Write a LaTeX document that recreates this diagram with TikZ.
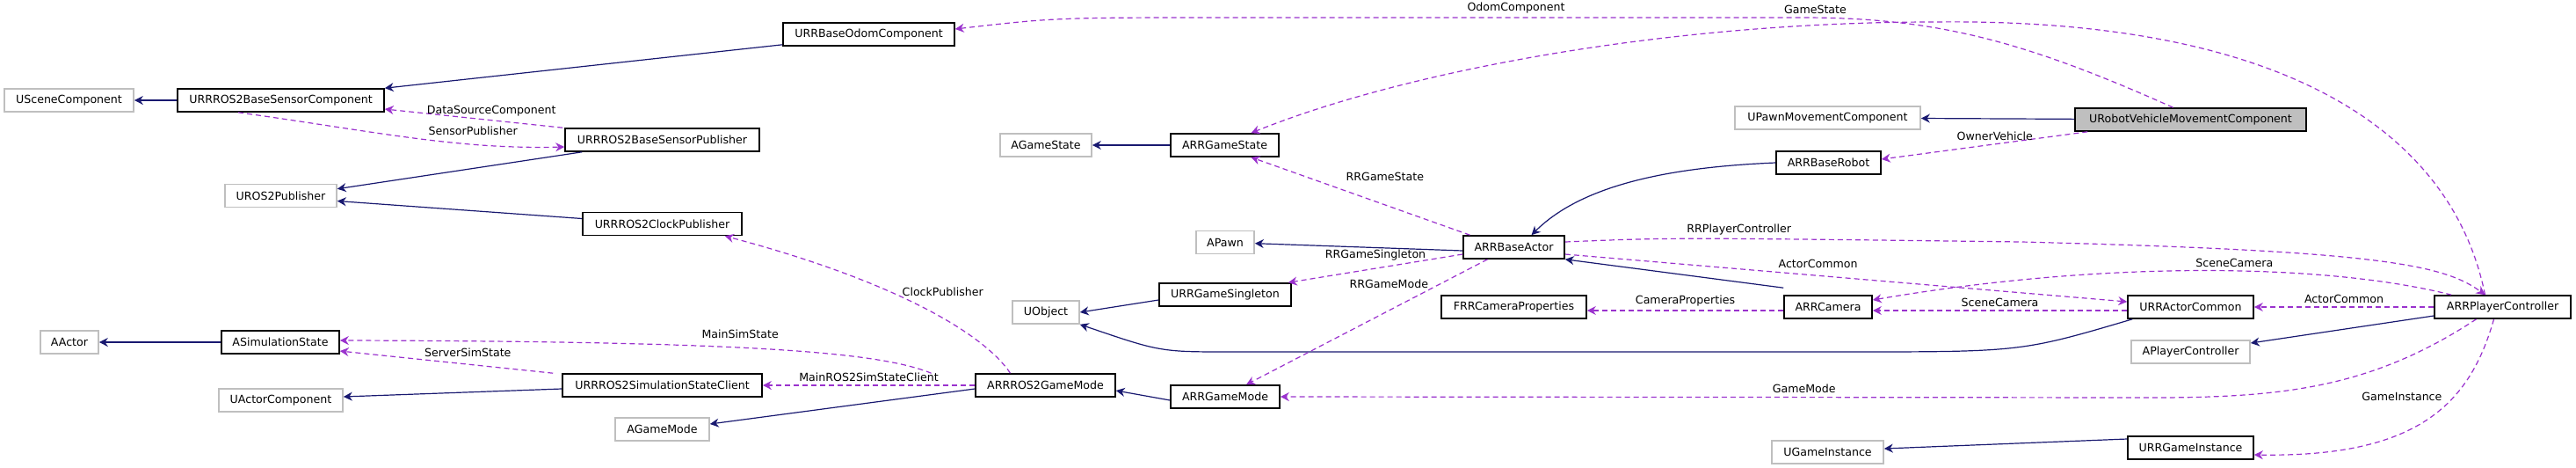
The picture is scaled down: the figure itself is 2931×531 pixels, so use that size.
\documentclass[tikz,border=0pt]{standalone}
\usepackage{fontspec}
\setmainfont{DejaVu Sans}
\usepackage{tikz}
\usetikzlibrary{arrows.meta}
\definecolor{inherit}{HTML}{191970}
\definecolor{usage}{HTML}{9A32CD}
\tikzset{
  cls/.style={draw=black, line width=0.8pt, fill=white, minimum height=13pt, inner sep=0pt, font=\fontsize{6.3}{8}\selectfont},
  ext/.style={cls, draw=gray!50},
  base/.style={inherit, line width=0.6pt, -{Stealth[length=5pt,width=5pt]}},
  uses/.style={usage, line width=0.6pt, dashed, dash pattern=on 3pt off 2pt, -{Stealth[length=5pt,width=5pt]}},
  lbl/.style={text=black, font=\fontsize{6.3}{8}\selectfont, inner sep=2pt}
}
\begin{document}
\begin{tikzpicture}[x=0.5pt, y=-0.5pt]
  \useasboundingbox (0,0) rectangle (2931,531);
  % classes
  \node[ext, minimum width=73.5pt] (scene) at (78.5,114) {USceneComponent};
  \node[cls, minimum width=117.5pt] (sensorcomp) at (319.5,114) {URRROS2BaseSensorComponent};
  \node[cls, minimum width=97.5pt] (odom) at (988.5,39) {URRBaseOdomComponent};
  \node[cls, minimum width=110.5pt] (sensorpub) at (753.5,159) {URRROS2BaseSensorPublisher};
  \node[ext, minimum width=63.5pt] (ros2pub) at (319.5,222.5) {UROS2Publisher};
  \node[cls, minimum width=90.5pt] (clockpub) at (753.5,254.5) {URRROS2ClockPublisher};
  \node[ext, minimum width=33pt] (aactor) at (79,389) {AActor};
  \node[cls, minimum width=67pt] (simstate) at (319,389) {ASimulationState};
  \node[cls, minimum width=113.5pt] (simclient) at (753.5,438) {URRROS2SimulationStateClient};
  \node[ext, minimum width=70.5pt] (actorcomp) at (319.5,455) {UActorComponent};
  \node[ext, minimum width=53.5pt] (agamemode) at (753.5,488) {AGameMode};
  \node[ext, minimum width=52pt] (agamestate) at (1190,165) {AGameState};
  \node[cls, minimum width=61.5pt] (gamestate) at (1393.5,165) {ARRGameState};
  \node[ext, minimum width=33pt] (apawn) at (1394,275.5) {APawn};
  \node[cls, minimum width=57.5pt] (baseactor) at (1722.5,281) {ARRBaseActor};
  \node[cls, minimum width=75pt] (singleton) at (1394,335) {URRGameSingleton};
  \node[ext, minimum width=38pt] (uobject) at (1190,355) {UObject};
  \node[cls, minimum width=82.5pt] (camprops) at (1722.5,349) {FRRCameraProperties};
  \node[cls, minimum width=79.5pt] (ros2mode) at (1189.5,438) {ARRROS2GameMode};
  \node[cls, minimum width=62pt] (gamemode) at (1394,451) {ARRGameMode};
  \node[ext, minimum width=105.5pt] (pawnmove) at (2079.5,134) {UPawnMovementComponent};
  \node[cls, fill=gray!50, minimum width=131.5pt] (vehicle) at (2492.5,136) {URobotVehicleMovementComponent};
  \node[cls, minimum width=59.5pt] (baserobot) at (2080.5,185) {ARRBaseRobot};
  \node[cls, minimum width=50pt] (camera) at (2080,349) {ARRCamera};
  \node[cls, minimum width=71.5pt] (actorcommon) at (2492.5,349) {URRActorCommon};
  \node[cls, minimum width=77.5pt] (playerctrl) at (2847.5,349) {ARRPlayerController};
  \node[ext, minimum width=67.5pt] (aplayerctrl) at (2492.5,400) {APlayerController};
  \node[ext, minimum width=63.5pt] (ugameinst) at (2079.5,514) {UGameInstance};
  \node[cls, minimum width=71.5pt] (gameinst) at (2492.5,509) {URRGameInstance};
  % inheritance
  \draw[base] (sensorcomp) -- (scene);
  \draw[base] (odom.south west) ++(0,-2) -- (sensorcomp.north east);
  \draw[base] ([xshift=10pt]sensorpub.south west) -- ([yshift=-3pt]ros2pub.north east);
  \draw[base] ([yshift=3pt]clockpub.west) -- ([yshift=-3pt]ros2pub.east);
  \draw[base] (simstate) -- (aactor);
  \draw[base] ([yshift=-2pt]simclient.west) -- ([yshift=2pt]actorcomp.east);
  \draw[base] ([yshift=-2pt]ros2mode.west) -- ([yshift=3pt]agamemode.east);
  \draw[base] (gamestate) -- (agamestate);
  \draw[base] ([yshift=-2pt]baseactor.west) -- (apawn);
  \draw[base] (baserobot.west) .. controls (1900,190) and (1800,210) .. ([xshift=10pt]baseactor.north);
  \draw[base] ([yshift=4pt]camera.north west) -- (baseactor.south east);
  \draw[base] ([yshift=-3pt]singleton.west) -- (uobject.east);
  \draw[base] ([xshift=3pt]actorcommon.south west) .. controls (2300,400) .. (2100,400) -- (1400,400) .. controls (1320,400) .. (uobject.south east);
  \draw[base] ([yshift=-2pt]gamemode.west) -- ([yshift=-3pt]ros2mode.east);
  \draw[base] (vehicle) -- (pawnmove);
  \draw[base] ([yshift=-5pt]playerctrl.west) -- ([yshift=5pt]aplayerctrl.east);
  \draw[base] ([yshift=5pt]gameinst.west) -- ([yshift=2pt]ugameinst.east);
  % usage
  \draw[uses] ([xshift=-1pt]sensorpub.north west) -- node[lbl, above, pos=0.4] {DataSourceComponent} ([yshift=-5pt]sensorcomp.east);
  \draw[uses] ([xshift=35pt]sensorcomp.south west) .. controls (430,150) and (520,170) .. node[lbl, above=3pt, pos=0.7] {SensorPublisher} ([yshift=-4pt]sensorpub.west);
  \draw[uses] ([xshift=-10pt]vehicle.north) .. controls (2300,45) and (2200,20) .. (2050,20) -- node[lbl, above] {OdomComponent} (1400,20) .. controls (1200,20) .. ([yshift=3pt]odom.east);
  \draw[uses] ([xshift=-10pt]playerctrl.north) .. controls (2790,150) and (2600,20) .. (2200,25) .. controls (1900,25) and (1600,80) .. node[lbl, pos=0.15, above=4pt] {GameState} ([xshift=15pt]gamestate.north);
  \draw[uses] (vehicle.south west) ++(15,0) -- node[lbl, above, pos=0.45] {OwnerVehicle} ([yshift=2pt]baserobot.east);
  \draw[uses] ([xshift=-25pt]baseactor.north) -- node[lbl, above right=2pt, pos=0.6] {RRGameState} ([xshift=15pt]gamestate.south);
  \draw[uses] ([yshift=-4pt]baseactor.west) -- node[lbl, above=2pt, pos=0.5] {RRGameSingleton} ([xshift=-2pt]singleton.north east);
  \draw[uses] ([xshift=-15pt]baseactor.south) -- node[lbl, left=4pt, pos=0.2] {RRGameMode} ([xshift=12pt]gamemode.north);
  \draw[uses] ([yshift=3pt]baseactor.east) .. controls (1900,270) .. node[lbl, above, pos=0.6] {RRPlayerController} (2300,275) .. controls (2700,285) and (2780,300) .. ([xshift=-10pt]playerctrl.north);
  \draw[uses] ([yshift=-4pt]baseactor.east) -- node[lbl, above=2pt, pos=0.45] {ActorCommon} ([yshift=3pt]actorcommon.west);
  \draw[uses] ([xshift=10pt]playerctrl.north west) .. controls (2650,300) and (2400,295) .. node[lbl, above, pos=0.45] {SceneCamera} ([yshift=4pt]camera.east);
  \draw[uses] ([yshift=-2pt]actorcommon.west) -- node[lbl, above] {SceneCamera} ([yshift=-2pt]camera.east);
  \draw[uses] ([yshift=-2pt]camera.west) -- node[lbl, above] {CameraProperties} ([yshift=-2pt]camprops.east);
  \draw[uses] (playerctrl.west) -- node[lbl, above] {ActorCommon} (actorcommon.east);
  \draw[uses] ([xshift=-15pt]playerctrl.south) .. controls (2700,440) and (2600,452) .. (2450,452) -- node[lbl, above, pos=0.4] {GameMode} (gamemode.east);
  \draw[uses] ([xshift=-5pt]playerctrl.south) .. controls (2810,460) and (2750,520) .. node[lbl, above left, pos=0.4] {GameInstance} ([yshift=-4pt]gameinst.east);
  \draw[uses] ([xshift=-20pt]ros2mode.north) .. controls (1120,380) and (1020,320) .. node[lbl, above, pos=0.55, xshift=20pt] {ClockPublisher} ([xshift=-10pt]clockpub.south east);
  \draw[uses] ([xshift=-65pt]ros2mode.north) .. controls (1000,400) and (850,388) .. node[lbl, above=3pt, pos=0.55] {MainSimState} ([yshift=1pt]simstate.east);
  \draw[uses] ([xshift=-5pt]simclient.north west) -- node[lbl, above=2pt, pos=0.4] {ServerSimState} ([yshift=-5pt]simstate.east);
  \draw[uses] (ros2mode.west) -- node[lbl, above] {MainROS2SimStateClient} (simclient.east);
\end{tikzpicture}
\end{document}
